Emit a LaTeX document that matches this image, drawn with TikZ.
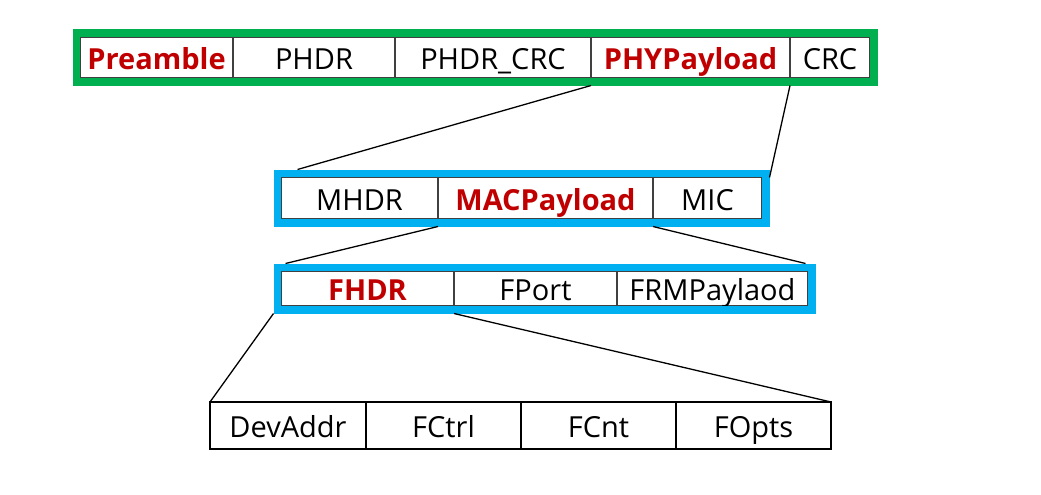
\documentclass[tikz,border=0pt]{standalone}
\usepackage{fontspec}
\setmainfont{Open Sans}
\usetikzlibrary{positioning,fit}
\definecolor{loragreen}{RGB}{0,176,80}
\definecolor{lorablue}{RGB}{0,176,240}
\definecolor{lorared}{RGB}{192,0,0}

\begin{document}
\begin{tikzpicture}[x=1pt,y=-1pt,
  field/.style={draw=black!75,line width=1.3pt,inner sep=0pt,outer sep=0pt,
               text height=24pt,text depth=0pt,
               font=\fontsize{29}{34}\selectfont},
  hot/.style={text=lorared,font=\fontsize{29}{34}\selectfont\bfseries},
  wrap/.style={draw=#1,line width=7.5pt,inner sep=3.75pt},
  link/.style={line width=1.3pt},
]
  \fill[white] (0,0) rectangle (1041,495);
  \useasboundingbox (0,0) rectangle (1041,495);

  % PHY layer
  \node[field,hot,anchor=west,minimum width=153pt,minimum height=41pt] (pre) at (80,57.5) {Preamble};
  \node[field,minimum width=162pt,minimum height=41pt,right=0pt of pre]    (phdr)   {PHDR};
  \node[field,minimum width=196pt,minimum height=41pt,right=0pt of phdr]   (phdrcrc) {PHDR\_CRC};
  \node[field,hot,minimum width=199pt,minimum height=41pt,right=0pt of phdrcrc] (phypay) {PHYPayload};
  \node[field,minimum width=80pt,minimum height=41pt,right=0pt of phypay]  (crc)    {CRC};
  \node[wrap=loragreen,fit=(pre)(crc)] (phyframe) {};

  % MAC layer
  \node[field,anchor=west,minimum width=157pt,minimum height=42pt] (mhdr) at (281,198) {MHDR};
  \node[field,hot,minimum width=215pt,minimum height=42pt,right=0pt of mhdr]  (macpay) {MACPayload};
  \node[field,minimum width=109pt,minimum height=42pt,right=0pt of macpay]    (mic)    {MIC};
  \node[wrap=lorablue,fit=(mhdr)(mic)] (macframe) {};

  % MACPayload
  \node[field,hot,anchor=west,minimum width=173pt,minimum height=35pt] (fhdr) at (281,288.5) {FHDR};
  \node[field,minimum width=163pt,minimum height=35pt,right=0pt of fhdr]   (fport) {FPort};
  \node[field,minimum width=191pt,minimum height=35pt,right=0pt of fport]  (frm)   {FRMPaylaod};
  \node[wrap=lorablue,fit=(fhdr)(frm)] (fhdrframe) {};

  % FHDR
  \node[field,draw=black,anchor=west,minimum width=156pt,minimum height=47pt] (devaddr) at (210,425.5) {DevAddr};
  \node[field,draw=black,minimum width=155pt,minimum height=47pt,right=0pt of devaddr] (fctrl) {FCtrl};
  \node[field,draw=black,minimum width=155pt,minimum height=47pt,right=0pt of fctrl]   (fcnt)  {FCnt};
  \node[field,draw=black,minimum width=155pt,minimum height=47pt,right=0pt of fcnt]    (fopts) {FOpts};

  \draw[link] (phypay.south west |- phyframe.south) -- ([xshift=24pt]macframe.north west);
  \draw[link] (crc.south west |- phyframe.south)    -- ([yshift=-8pt]macframe.north east);
  \draw[link] (mhdr.south east |- macframe.south)   -- ([xshift=12pt]fhdrframe.north west);
  \draw[link] (mic.south west |- macframe.south)    -- ([xshift=-10pt]fhdrframe.north east);
  \draw[link] (fhdrframe.south west)                -- (devaddr.north west);
  \draw[link] (fhdr.south east |- fhdrframe.south)  -- (fopts.north east);
\end{tikzpicture}
\end{document}
